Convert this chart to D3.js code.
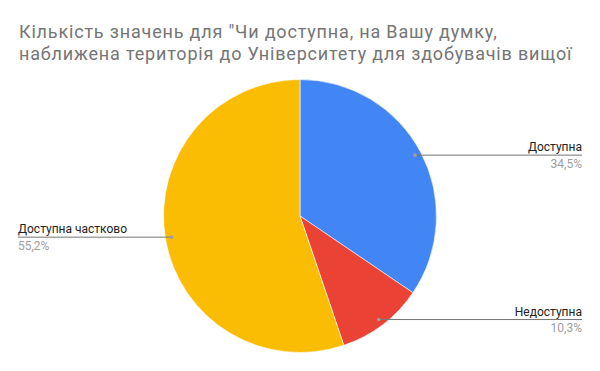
<!DOCTYPE html>
<html>
<head>
<meta charset="utf-8">
<script src="https://cdn.jsdelivr.net/npm/d3@7"></script>
<style>
  body { margin: 0; background: #fff; }
  text { font-family: Roboto, "Noto Sans", sans-serif; }
</style>
</head>
<body>
<div id="chart"></div>
<script>
// Chart data
const titleLines = ['Кількість значень для "Чи доступна, на Вашу думку,', 'наближена територія до Університету для здобувачів вищої'];
const categories = ['Доступна', 'Недоступна', 'Доступна частково'];
const values = [34.5, 10.3, 55.2];
const pctLabels = ['34,5%', '10,3%', '55,2%'];
const colors = ['#4285F4', '#EA4335', '#FBBC04'];

const W = 600, H = 371;
const cx = 300, cy = 216, R = 136.5;

const svg = d3.select("#chart").append("svg")
    .attr("width", W)
    .attr("height", H);

// Title
svg.append("g").selectAll("text")
    .data(titleLines)
    .enter()
    .append("text")
    .attr("x", 19)
    .attr("y", (d, i) => 38 + i * 21.6)
    .attr("font-size", 18)
    .attr("letter-spacing", 0.82)
    .attr("fill", "#757575")
    .text(d => d);

const data = categories.map((c, i) => ({ name: c, value: values[i], pct: pctLabels[i], color: colors[i] }));

const pie = d3.pie().sort(null).value(d => d.value);
const arcs = pie(data);
const arc = d3.arc().innerRadius(0).outerRadius(R);
const dotArc = d3.arc().innerRadius(R * 0.953).outerRadius(R * 0.953);

const g = svg.append("g").attr("transform", `translate(${cx},${cy})`);

g.selectAll("path")
    .data(arcs)
    .enter()
    .append("path")
    .attr("d", arc)
    .attr("fill", d => d.data.color)
    .attr("stroke", "#fff")
    .attr("stroke-width", 0.6);

// Leader lines and labels
const labels = svg.append("g");
arcs.forEach(d => {
    const [px, py] = dotArc.centroid(d);
    const x = cx + px, y = cy + py;
    const right = x > cx;
    const endX = right ? 582 : 18;

    labels.append("line")
        .attr("x1", x).attr("y1", y)
        .attr("x2", endX).attr("y2", y)
        .attr("stroke", "#757575")
        .attr("stroke-width", 1);

    labels.append("circle")
        .attr("cx", x).attr("cy", y)
        .attr("r", 1.8)
        .attr("fill", "#9e9e9e");

    labels.append("text")
        .attr("x", endX)
        .attr("y", y - 4)
        .attr("text-anchor", right ? "end" : "start")
        .attr("font-size", 12)
        .attr("fill", "#222")
        .text(d.data.name);

    labels.append("text")
        .attr("x", endX)
        .attr("y", y + 12.5)
        .attr("text-anchor", right ? "end" : "start")
        .attr("font-size", 12)
        .attr("fill", "#9e9e9e")
        .text(d.data.pct);
});
</script>
</body>
</html>
